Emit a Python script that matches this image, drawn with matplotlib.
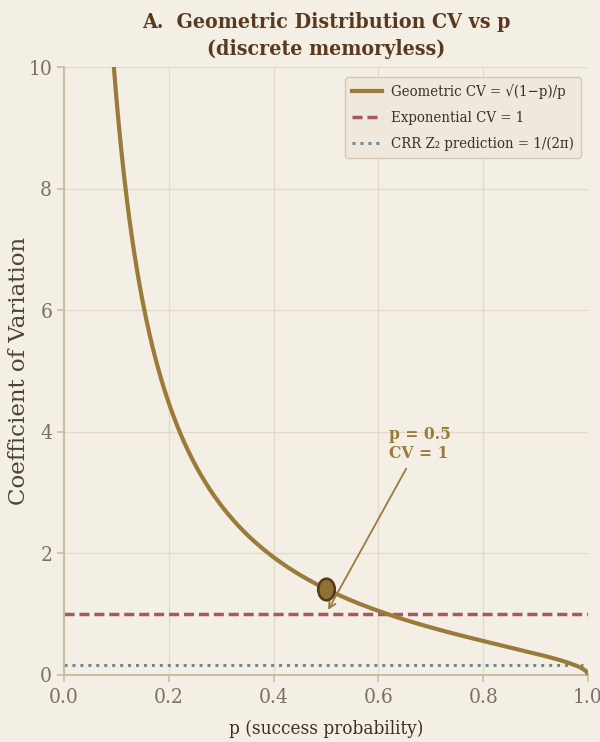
import numpy as np
import matplotlib as mpl
import matplotlib.pyplot as plt
from matplotlib.markers import MarkerStyle
from matplotlib.transforms import Affine2D

mpl.rcParams['font.family'] = ['DejaVu Serif', 'DejaVu Sans']
mpl.rcParams['font.stretch'] = 'condensed'
mpl.rcParams['axes.unicode_minus'] = True

#data
p = np.linspace(0.005, 1.0, 600)
cv_geom = np.sqrt(1 - p) / p
cv_exp = 1.0
cv_crr = 1 / (2 * np.pi)
mark_p = 0.5
mark_cv = np.sqrt(1 - mark_p) / mark_p
x_ticks = [0.0, 0.2, 0.4, 0.6, 0.8, 1.0]
y_ticks = [0, 2, 4, 6, 8, 10]

#colors
bg = '#F4EFE5'
gold = '#9B7B3A'
red = '#A65A5C'
blue = '#6E8A96'
brown = '#5A3A1E'
spine = '#C9BDA6'
tick_c = '#7A7266'

fig = plt.figure(figsize=(6, 7.42), dpi=100, facecolor=bg)
ax = fig.add_axes([0.1067, 0.0903, 0.8733, 0.8194])
ax.set_facecolor(bg)

ax.plot(p, cv_geom, color=gold, lw=3, label='Geometric CV = √(1−p)/p', zorder=3)
ax.axhline(cv_exp, xmin=0, xmax=1, color=red, lw=2.5, ls=(0, (2.9, 1.4)), label='Exponential CV = 1', zorder=2)
ax.plot([0, 0.99], [cv_crr, cv_crr], color=blue, lw=2.2, ls=(0, (1, 1.6)), label='CRR Z₂ prediction = 1/(2π)', zorder=2)
# slightly tall oval marker at p = 0.5
oval = MarkerStyle('o', transform=Affine2D().scale(0.77, 1.0))
ax.plot([mark_p], [mark_cv], marker=oval, ls='none', ms=15.5, mfc='#8F7335', mec=brown, mew=1.9, zorder=4)

ax.annotate('p = 0.5\nCV = 1', xy=(0.504, 1.07), xytext=(0.62, 4.1),
            fontsize=12.5, fontweight='bold', color=gold, ha='left', va='top',
            arrowprops=dict(arrowstyle='->', color=gold, lw=1.3, shrinkA=3, shrinkB=0))

ax.set_xlim(0, 1)
ax.set_ylim(0, 10)
ax.set_xticks(x_ticks)
ax.set_yticks(y_ticks)
ax.grid(True, color='#E2D9C9', lw=0.9)
ax.set_axisbelow(True)
for s in ['top', 'right']:
    ax.spines[s].set_visible(False)
for s in ['left', 'bottom']:
    ax.spines[s].set_color(spine)
    ax.spines[s].set_linewidth(1.5)
ax.tick_params(colors=spine, labelcolor=tick_c, labelsize=15, length=5, width=1.2)
ax.tick_params(axis='x', pad=4.5)
ax.tick_params(axis='y', pad=3.5)

ax.set_xlabel('p (success probability)', fontsize=13.5, color='#3A3026', labelpad=9)
ax.set_ylabel('Coefficient of Variation', fontsize=16.5, color='#4A4238', fontstretch='normal', labelpad=-1)
ax.set_title('A.  Geometric Distribution CV vs p\n(discrete memoryless)', fontsize=15.3,
             fontweight='bold', color=brown, pad=9, linespacing=1.4)

leg = ax.legend(loc='upper right', bbox_to_anchor=(1 - 7 / 524, 1 - 10 / 608), borderaxespad=0,
                fontsize=10.7, facecolor='#EFE8DC', edgecolor='#D5C9B3', framealpha=1,
                handlelength=2.0, handletextpad=0.6, labelspacing=0.78, borderpad=0.5)
for t in leg.get_texts():
    t.set_color('#3A3026')

plt.savefig('out.png', dpi=100, facecolor=bg)
